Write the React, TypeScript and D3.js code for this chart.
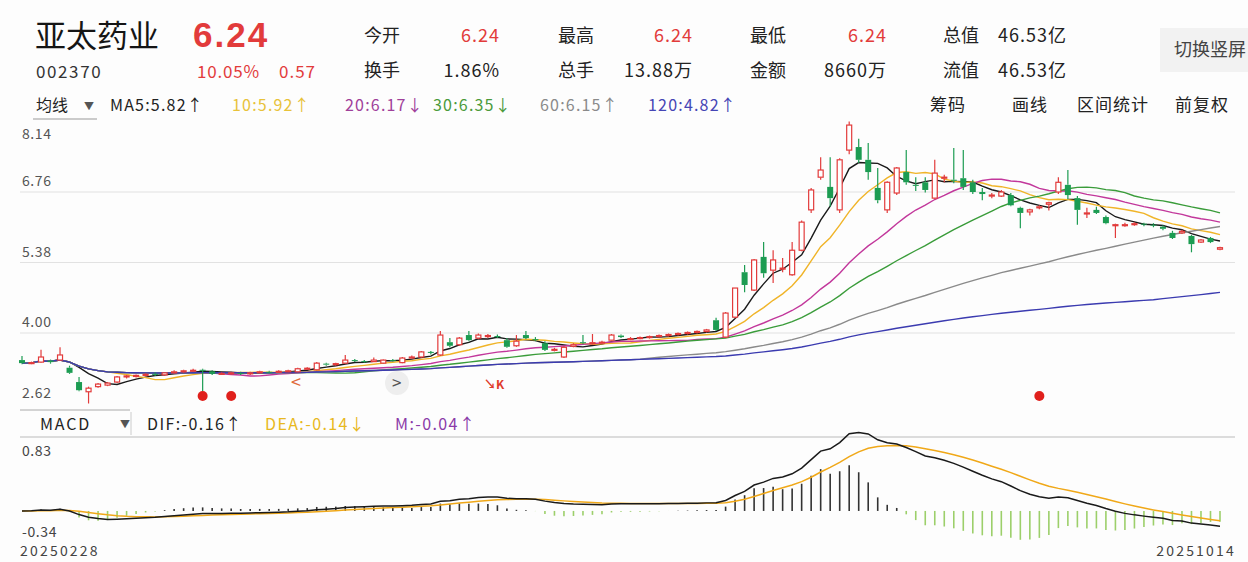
import React from 'react';
import * as d3 from 'd3';

// ---------- data ----------
const stockName = '亚太药业';
const stockCode = '002370';
const lastPrice = '6.24';
const changePct = '10.05%';
const changeAmt = '0.57';
const statLabels1 = ['今开', '最高', '最低', '总值'];
const statValues1 = ['6.24', '6.24', '6.24', '46.53亿'];
const statLabels2 = ['换手', '总手', '金额', '流值'];
const statValues2 = ['1.86%', '13.88万', '8660万', '46.53亿'];
const toolLabels = ['筹码', '画线', '区间统计', '前复权'];

const opens = [3.47,3.41,3.43,3.46,3.47,3.32,3.04,2.85,2.95,2.98,3.04,3.14,3.15,3.17,3.20,3.18,3.22,3.24,3.26,3.28,3.25,3.20,3.21,3.22,3.20,3.22,3.24,3.23,3.25,3.24,3.30,3.28,3.40,3.38,3.41,3.47,3.45,3.44,3.41,3.47,3.42,3.51,3.53,3.63,3.57,3.82,3.77,3.96,3.90,3.93,3.94,3.86,3.75,3.96,3.88,3.80,3.67,3.53,3.74,3.82,3.80,3.81,3.86,3.95,3.87,3.89,3.91,3.93,3.95,3.97,3.99,4.01,4.03,4.25,3.92,4.31,5.19,4.84,5.49,5.23,5.25,5.14,5.62,6.41,7.05,6.86,6.41,7.58,7.64,7.39,6.84,6.41,6.74,7.15,6.90,6.95,6.64,7.03,7.00,7.03,6.95,6.76,6.68,6.68,6.70,6.45,6.37,6.45,6.52,6.76,6.90,6.64,6.33,6.41,6.27,6.10,6.12,6.12,6.14,6.12,6.08,5.96,5.96,5.90,5.78,5.86,5.64];
const highs = [3.55,3.44,3.67,3.48,3.72,3.36,3.14,2.95,3.02,3.04,3.16,3.18,3.19,3.21,3.23,3.23,3.27,3.28,3.30,3.30,3.27,3.23,3.24,3.24,3.24,3.26,3.26,3.27,3.28,3.32,3.33,3.43,3.42,3.42,3.57,3.49,3.47,3.52,3.48,3.49,3.53,3.56,3.65,3.65,4.04,3.90,3.92,4.04,3.99,3.98,3.97,3.90,3.96,4.04,3.92,3.84,3.71,3.74,3.80,3.96,3.98,3.85,3.98,3.97,3.92,3.93,3.95,3.97,3.99,4.01,4.03,4.05,4.08,4.30,4.41,4.88,5.33,5.45,5.78,5.62,5.47,5.78,6.20,6.84,7.44,7.44,7.42,8.14,7.80,7.72,7.23,6.97,7.25,7.58,7.05,7.05,7.39,7.10,7.62,7.58,7.00,6.84,6.74,6.80,6.74,6.47,6.43,6.50,6.57,7.05,7.19,6.68,6.45,6.47,6.30,6.14,6.16,6.17,6.16,6.15,6.11,6.00,6.02,5.92,5.84,5.88,5.69];
const lows = [3.39,3.39,3.42,3.40,3.45,3.20,2.86,2.62,2.93,2.96,3.02,3.11,3.13,3.15,3.16,3.16,3.20,3.22,3.24,2.85,3.18,3.18,3.19,3.18,3.18,3.21,3.21,3.22,3.23,3.23,3.28,3.27,3.36,3.36,3.40,3.43,3.42,3.43,3.40,3.44,3.41,3.50,3.52,3.58,3.55,3.72,3.75,3.84,3.88,3.90,3.90,3.71,3.73,3.88,3.84,3.65,3.64,3.51,3.72,3.78,3.78,3.79,3.85,3.90,3.86,3.88,3.89,3.91,3.93,3.95,3.97,3.99,4.01,4.04,3.90,4.29,4.80,4.82,5.08,4.98,5.19,5.12,5.60,6.35,7.00,6.47,6.35,7.50,7.33,7.00,6.54,6.35,6.70,6.90,6.78,6.75,6.62,6.95,6.93,6.80,6.72,6.60,6.64,6.66,6.48,6.05,6.30,6.42,6.40,6.72,6.62,6.12,6.25,6.33,6.13,5.86,6.08,6.10,6.09,6.07,6.01,5.84,5.94,5.58,5.76,5.76,5.62];
const closes = [3.41,3.42,3.53,3.43,3.57,3.22,2.88,2.92,3.00,3.02,3.14,3.16,3.17,3.19,3.18,3.22,3.24,3.26,3.27,3.26,3.20,3.21,3.22,3.20,3.22,3.24,3.23,3.25,3.26,3.30,3.31,3.41,3.38,3.40,3.47,3.45,3.44,3.47,3.47,3.46,3.51,3.53,3.63,3.61,3.96,3.75,3.90,3.86,3.96,3.95,3.92,3.73,3.84,3.90,3.86,3.67,3.68,3.72,3.77,3.80,3.81,3.82,3.96,3.92,3.89,3.91,3.93,3.95,3.97,3.99,4.01,4.03,4.06,4.06,4.39,4.88,4.94,5.43,5.17,5.43,5.27,5.62,6.17,6.80,7.19,6.64,7.39,8.07,7.39,7.15,6.60,6.95,7.23,6.95,6.88,6.80,7.13,7.05,6.98,6.86,6.76,6.72,6.70,6.76,6.50,6.35,6.41,6.47,6.55,6.95,6.70,6.41,6.35,6.35,6.15,6.12,6.12,6.14,6.12,6.10,6.04,5.86,5.99,5.74,5.82,5.78,5.67];

const priceTicks = [8.14, 6.76, 5.38, 4.0, 2.62];
const macdTicks = [0.83, -0.34];
const dateLabels = ['20250228', '20251014'];
const maPeriods = [5, 10, 20, 30, 60, 120];
const maLegend = ['MA5:5.82↑', '10:5.92↑', '20:6.17↓', '30:6.35↓', '60:6.15↑', '120:4.82↑'];
const macdLegend = ['DIF:-0.16↑', 'DEA:-0.14↓', 'M:-0.04↑'];
const eventMarks = [19, 22, 107];

// ---------- styles ----------
const FONT = "'Noto Sans CJK SC', 'Noto Sans', sans-serif";
const RED = '#e23b3b';
const GREEN = '#1c9c52';
const maColors = ['#1a1a1a', '#f0b428', '#c2379b', '#3a9c3a', '#8a8a8a', '#3b3bb0'];
const maLegendColors = ['#222', '#e8c23a', '#a0409a', '#4a9a3a', '#8a8a8a', '#4545b5'];
const maLegendX = [110, 232, 345, 433, 540, 648];
const macdColors = ['#222', '#e8b820', '#8a3aa8'];
const macdLegendX = [147, 265, 395];
const statLabelX = [364, 558, 750, 943];
const statValueX = [500, 693, 887, 998];

function movingAvg(arr: number[], n: number) {
  return arr.map((_, i) => d3.mean(arr.slice(Math.max(0, i - n + 1), i + 1)) as number);
}
function ema(arr: number[], n: number) {
  const a = 2 / (n + 1);
  const out: number[] = [];
  arr.forEach((v, i) => out.push(i === 0 ? v : out[i - 1] + a * (v - out[i - 1])));
  return out;
}

export default function App() {
  const N = closes.length;
  const x = d3.scaleLinear().domain([0, N - 1]).range([22, 1220]);
  const y = d3.scaleLinear().domain([2.62, 8.14]).range([403.5, 121.5]);
  const ym = d3.scaleLinear().domain([-0.34, 0.83]).range([540, 440]);

  const mas = maPeriods.map((p) => movingAvg(closes, p));
  const e12 = ema(closes, 12);
  const e26 = ema(closes, 26);
  const dif = e12.map((v, i) => v - e26[i]);
  const dea = ema(dif, 9);
  const mh = dif.map((v, i) => 2 * (v - dea[i]));

  const line = (vals: number[], ys: d3.ScaleLinear<number, number>) =>
    d3.line<number>().x((_, i) => x(i)).y((v) => ys(v))(vals) as string;

  const bw = 6;

  return (
    <svg width={1248} height={562} style={{ position: 'absolute', left: 0, top: 0, background: '#fdfdfd', fontFamily: FONT }}>
      <rect x={0} y={0} width={1248} height={562} fill="#fdfdfd" />
      {/* header */}
      <text x={35} y={47} fontSize={31} fill="#151515">{stockName}</text>
      <text x={193} y={47} fontSize={35} fontWeight="bold" fill={RED} letterSpacing={2} fontFamily="'Liberation Sans', Arial, sans-serif">{lastPrice}</text>
      <text x={36} y={78} fontSize={17} letterSpacing={1.6} fill="#333">{stockCode}</text>
      <text x={197} y={78} fontSize={17} letterSpacing={0.8} fill={RED}>{changePct}</text>
      <text x={279} y={78} fontSize={17} letterSpacing={1} fill={RED}>{changeAmt}</text>
      {statLabels1.map((l, k) => (
        <text key={'l1' + k} x={statLabelX[k]} y={42} fontSize={18} fill="#222">{l}</text>
      ))}
      {statValues1.map((v, k) => (
        <text key={'v1' + k} x={statValueX[k]} y={42} fontSize={18} letterSpacing={1} fill={k < 3 ? RED : '#222'} textAnchor={k < 3 ? 'end' : 'start'}>{v}</text>
      ))}
      {statLabels2.map((l, k) => (
        <text key={'l2' + k} x={statLabelX[k]} y={77} fontSize={18} fill="#222">{l}</text>
      ))}
      {statValues2.map((v, k) => (
        <text key={'v2' + k} x={statValueX[k]} y={77} fontSize={18} letterSpacing={1} fill="#222" textAnchor={k < 3 ? 'end' : 'start'}>{v}</text>
      ))}
      <rect x={1160} y={28} width={100} height={44} fill="#f2f2f2" />
      <text x={1174} y={56} fontSize={18} fill="#444">切换竖屏</text>

      {/* MA legend row */}
      <text x={36} y={111} fontSize={16} fill="#222">均线</text>
      <text x={84} y={110} fontSize={10} fill="#555">▼</text>
      <line x1={33} x2={97} y1={119} y2={119} stroke="#999" strokeWidth={1} />
      {maLegend.map((t, k) => (
        <text key={'ml' + k} x={maLegendX[k]} y={111} fontSize={16} letterSpacing={1.2} fill={maLegendColors[k]}>{t}</text>
      ))}
      {toolLabels.map((t, k) => (
        <text key={'tl' + k} x={[930, 1012, 1077, 1175][k]} y={111} fontSize={17} letterSpacing={1} fill="#222">{t}</text>
      ))}

      {/* price grid */}
      {priceTicks.slice(1, 4).map((t) => (
        <line key={'g' + t} x1={20} x2={1235} y1={y(t)} y2={y(t)} stroke="#e2e2e2" strokeWidth={1.2} />
      ))}
      {priceTicks.map((t, k) => (
        <text key={'pt' + t} x={22} y={k === 0 ? y(t) + 17 : y(t) - 6} fontSize={14} letterSpacing={0.6} fill="#555">{t.toFixed(2)}</text>
      ))}

      {/* MA lines */}
      {mas.map((m, k) => (
        <path key={'ma' + k} d={line(m, y)} fill="none" stroke={maColors[k]} strokeWidth={1.4} />
      ))}

      {/* candles */}
      {closes.map((c, i) => {
        const o = opens[i];
        const up = c >= o;
        const col = up ? RED : GREEN;
        const top = y(Math.max(o, c));
        const bot = y(Math.min(o, c));
        const h = Math.max(1, bot - top);
        return (
          <g key={'c' + i}>
            <line x1={x(i)} x2={x(i)} y1={y(highs[i])} y2={top} stroke={col} strokeWidth={1.2} />
            <line x1={x(i)} x2={x(i)} y1={top + h} y2={y(lows[i])} stroke={col} strokeWidth={1.2} />
            {up ? (
              <rect x={x(i) - bw / 2 + 0.5} y={top} width={bw - 1} height={h} fill="#fff" stroke={col} strokeWidth={1.2} />
            ) : (
              <rect x={x(i) - bw / 2} y={top} width={bw} height={h} fill={col} />
            )}
          </g>
        );
      })}

      {/* event markers */}
      {eventMarks.map((i) => (
        <circle key={'ev' + i} cx={x(i)} cy={396} r={5} fill="#e0201c" />
      ))}
      <text x={291} y={389} fontSize={18} fill="#e06a3a">{'<'}</text>
      <circle cx={397} cy={383} r={12} fill="#eeeeee" />
      <text x={392} y={389} fontSize={17} fill="#555">{'>'}</text>
      <text x={484} y={389} fontSize={12} fill="#e03a2a" fontWeight="bold">↘K</text>

      {/* MACD header */}
      <line x1={20} x2={130} y1={410} y2={410} stroke="#aaa" strokeWidth={1} />
      <line x1={131} x2={131} y1={412} y2={435} stroke="#ccc" strokeWidth={1} />
      <text x={40} y={430} fontSize={16} letterSpacing={1.8} fill="#222">MACD</text>
      <text x={120} y={428} fontSize={10} fill="#555">▼</text>
      {macdLegend.map((t, k) => (
        <text key={'md' + k} x={macdLegendX[k]} y={430} fontSize={16} letterSpacing={1.4} fill={macdColors[k]}>{t}</text>
      ))}
      <line x1={20} x2={1235} y1={437} y2={437} stroke="#bbb" strokeWidth={1.2} />
      <text x={22} y={456} fontSize={14} letterSpacing={0.6} fill="#444">{macdTicks[0].toFixed(2)}</text>
      <text x={22} y={537} fontSize={14} letterSpacing={0.6} fill="#444">{macdTicks[1].toFixed(2)}</text>

      {/* MACD histogram */}
      {mh.map((v, i) => (
        <line key={'h' + i} x1={x(i)} x2={x(i)} y1={ym(0)} y2={ym(v)} stroke={v >= 0 ? '#333' : '#9ccf6a'} strokeWidth={1.6} />
      ))}
      <path d={line(dea, ym)} fill="none" stroke="#f0a818" strokeWidth={1.5} />
      <path d={line(dif, ym)} fill="none" stroke="#1a1a1a" strokeWidth={1.5} />

      {/* dates */}
      <text x={20} y={556} fontSize={14} letterSpacing={2.2} fill="#444">{dateLabels[0]}</text>
      <text x={1236} y={556} fontSize={14} letterSpacing={2.2} fill="#444" textAnchor="end">{dateLabels[1]}</text>
    </svg>
  );
}
